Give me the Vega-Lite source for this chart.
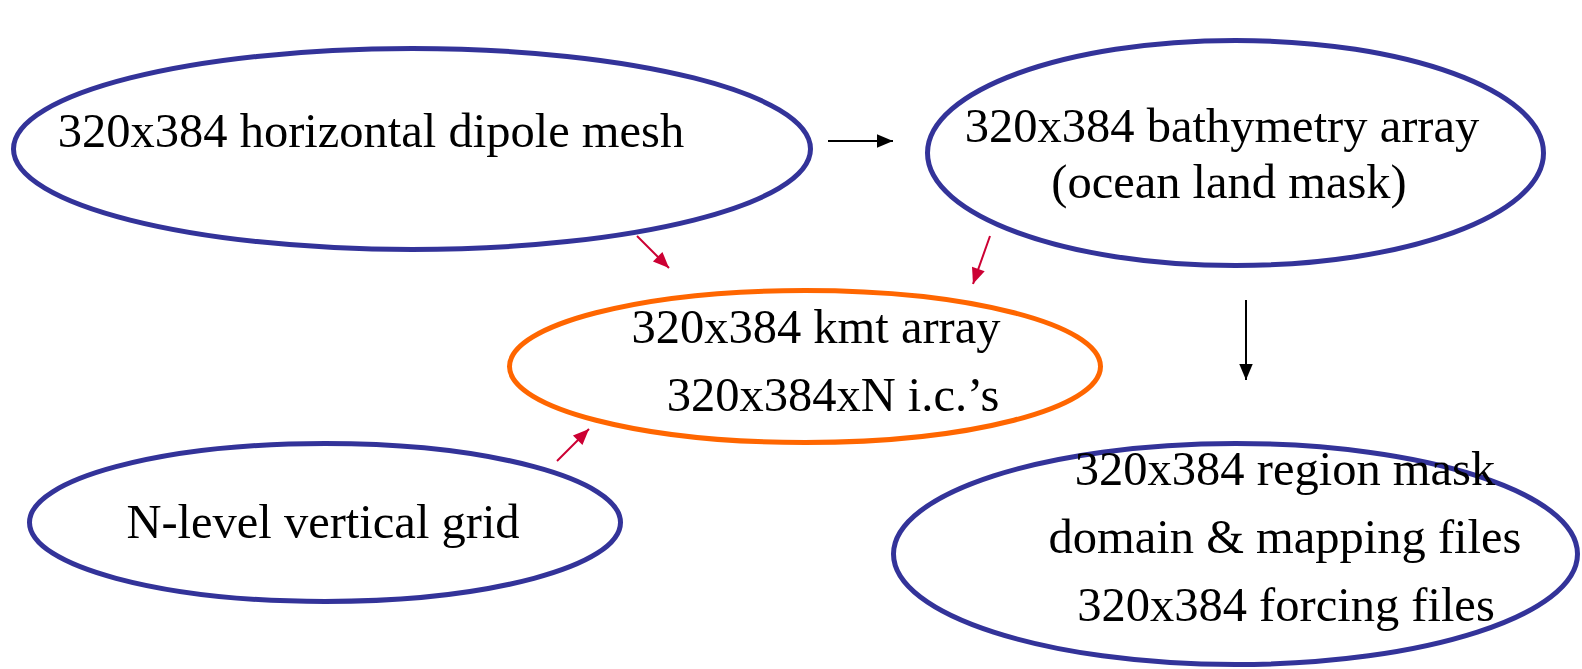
{
  "$schema": "https://vega.github.io/schema/vega-lite/v6.json",
  "autosize": {"type": "none"},
  "width": 1582,
  "height": 669,
  "padding": 0,
  "background": "white",
  "config": {"view": {"stroke": null}},
  "datasets": {
    "nodes": [
      {"id": "mesh", "x": 412, "y": 149},
      {"id": "bathymetry", "x": 1235.5, "y": 153},
      {"id": "kmt", "x": 805, "y": 366.5},
      {"id": "vgrid", "x": 325, "y": 522.5},
      {"id": "outputs", "x": 1235.5, "y": 554}
    ],
    "labels": [
      {"text": "320x384 horizontal dipole mesh", "x": 371, "y": 147},
      {"text": "320x384 bathymetry array", "x": 1222, "y": 142},
      {"text": "(ocean land mask)", "x": 1229, "y": 198},
      {"text": "320x384 kmt array", "x": 816, "y": 343},
      {"text": "320x384xN i.c.’s", "x": 833, "y": 411},
      {"text": "N-level vertical grid", "x": 323, "y": 538},
      {"text": "320x384 region mask", "x": 1285, "y": 485},
      {"text": "domain & mapping files", "x": 1285, "y": 553},
      {"text": "320x384 forcing files", "x": 1286, "y": 621}
    ],
    "arrows": [
      {"x": 828, "y": 141, "x2": 893, "y2": 141, "kind": "flow"},
      {"x": 1246, "y": 300, "x2": 1246, "y2": 380, "kind": "flow"},
      {"x": 637, "y": 236, "x2": 669, "y2": 268, "kind": "input"},
      {"x": 990, "y": 236, "x2": 973, "y2": 284, "kind": "input"},
      {"x": 557, "y": 461, "x2": 589, "y2": 429, "kind": "input"}
    ]
  },
  "layer": [
    {
      "data": {"name": "nodes"},
      "mark": {"type": "point", "filled": false, "strokeWidth": 5, "opacity": 1, "size": 4},
      "encoding": {
        "x": {"field": "x", "type": "quantitative", "scale": {"domain": [0, 1582], "nice": false, "zero": false}, "axis": null},
        "y": {"field": "y", "type": "quantitative", "scale": {"domain": [0, 669], "nice": false, "zero": false, "reverse": true}, "axis": null},
        "shape": {
          "field": "id", "type": "nominal", "legend": null,
          "scale": {
            "domain": ["mesh", "bathymetry", "kmt", "vgrid", "outputs"],
            "range": [
              "M-398.5,0C-398.5,-55.5 -220.1,-100.5 0,-100.5C220.1,-100.5 398.5,-55.5 398.5,0C398.5,55.5 220.1,100.5 0,100.5C-220.1,100.5 -398.5,55.5 -398.5,0Z",
              "M-308,0C-308,-62.1 -170.1,-112.5 0,-112.5C170.1,-112.5 308,-62.1 308,0C308,62.1 170.1,112.5 0,112.5C-170.1,112.5 -308,62.1 -308,0Z",
              "M-295.5,0C-295.5,-42 -163.2,-76 0,-76C163.2,-76 295.5,-42 295.5,0C295.5,42 163.2,76 0,76C-163.2,76 -295.5,42 -295.5,0Z",
              "M-295.5,0C-295.5,-43.6 -163.2,-79 0,-79C163.2,-79 295.5,-43.6 295.5,0C295.5,43.6 163.2,79 0,79C-163.2,79 -295.5,43.6 -295.5,0Z",
              "M-342,0C-342,-61 -188.9,-110.5 0,-110.5C188.9,-110.5 342,-61 342,0C342,61 188.9,110.5 0,110.5C-188.9,110.5 -342,61 -342,0Z"
            ]
          }
        },
        "stroke": {
          "field": "id", "type": "nominal", "legend": null,
          "scale": {"domain": ["mesh", "bathymetry", "kmt", "vgrid", "outputs"], "range": ["#333399", "#333399", "#ff6600", "#333399", "#333399"]}
        }
      }
    },
    {
      "data": {"name": "arrows"},
      "mark": {"type": "rule", "strokeWidth": 2},
      "encoding": {
        "x": {"field": "x", "type": "quantitative"},
        "y": {"field": "y", "type": "quantitative"},
        "x2": {"field": "x2"},
        "y2": {"field": "y2"},
        "color": {"field": "kind", "type": "nominal", "legend": null, "scale": {"domain": ["flow", "input"], "range": ["#000000", "#cc0033"]}}
      }
    },
    {
      "data": {"name": "arrows"},
      "transform": [{"calculate": "atan2(datum.x2 - datum.x, datum.y - datum.y2) * 180 / PI", "as": "angle"}],
      "mark": {"type": "point", "filled": true, "opacity": 1, "strokeWidth": 0, "size": 1024, "shape": "M0,0L0.42,1L-0.42,1Z"},
      "encoding": {
        "x": {"field": "x2", "type": "quantitative"},
        "y": {"field": "y2", "type": "quantitative"},
        "angle": {"field": "angle", "type": "quantitative", "scale": null},
        "color": {"field": "kind", "type": "nominal", "legend": null, "scale": {"domain": ["flow", "input"], "range": ["#000000", "#cc0033"]}}
      }
    },
    {
      "data": {"name": "labels"},
      "mark": {"type": "text", "font": "Liberation Serif", "fontSize": 48.5, "align": "center", "baseline": "alphabetic", "color": "#000000"},
      "encoding": {
        "x": {"field": "x", "type": "quantitative"},
        "y": {"field": "y", "type": "quantitative"},
        "text": {"field": "text", "type": "nominal"}
      }
    }
  ]
}
